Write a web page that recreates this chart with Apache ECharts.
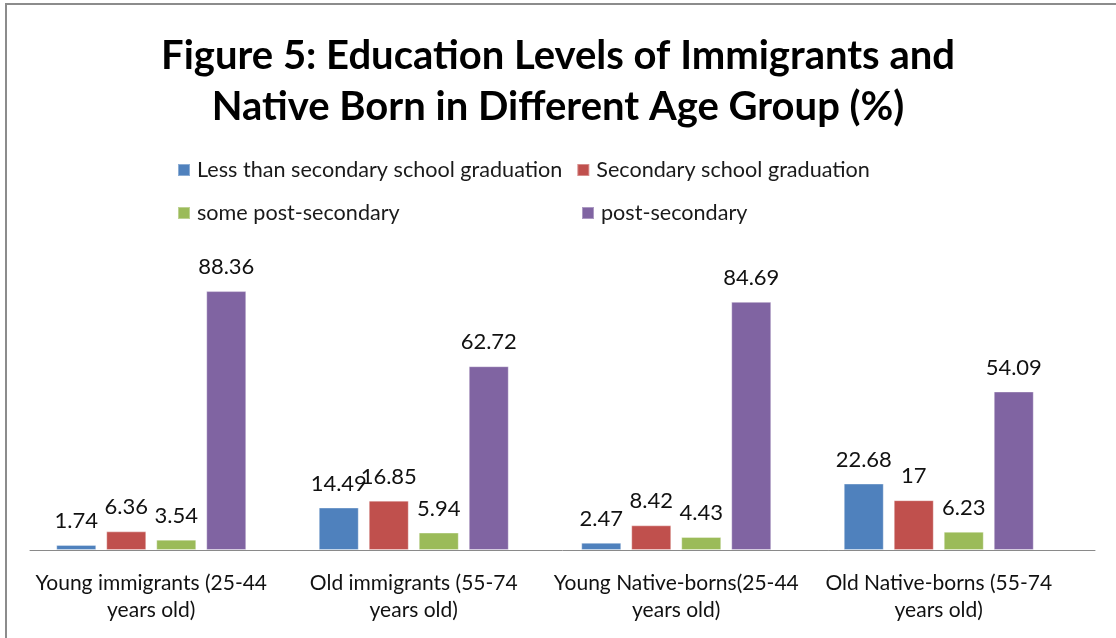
<!DOCTYPE html>
<html>
<head>
<meta charset="utf-8">
<script src="https://cdn.jsdelivr.net/npm/echarts@6/dist/echarts.min.js"></script>
<style>
html,body{margin:0;padding:0;background:#fff;}
#chart{width:1116px;height:638px;}
</style>
</head>
<body>
<div id="chart"></div>
<script>
const titleText = 'Figure 5: Education Levels of Immigrants and\nNative Born in Different Age Group (%)';
const categories = [
  'Young immigrants (25-44\nyears old)',
  'Old immigrants (55-74\nyears old)',
  'Young Native-borns(25-44\nyears old)',
  'Old Native-borns (55-74\nyears old)'
];
const seriesNames = [
  'Less than secondary school graduation',
  'Secondary school graduation',
  'some post-secondary',
  'post-secondary'
];
const lessThanSecondary = [1.74, 14.49, 2.47, 22.68];
const secondaryGrad = [6.36, 16.85, 8.42, 17];
const somePostSecondary = [3.54, 5.94, 4.43, 6.23];
const postSecondary = [88.36, 62.72, 84.69, 54.09];

const seriesValues = [lessThanSecondary, secondaryGrad, somePostSecondary, postSecondary];
const colors = ['#4F81BD', '#C0504D', '#9BBB59', '#8064A2'];
const FONT = 'Lato, "Open Sans", sans-serif';

const chart = echarts.init(document.getElementById('chart'));
const legendCommon = {
  itemWidth: 12, itemHeight: 12, itemGap: 14, icon: 'rect',
  textStyle: {fontFamily: FONT, fontSize: 21.6, color: '#1a1a1a', padding: [0,0,0,2]}
};
chart.setOption({
  animation: false,
  backgroundColor: '#fff',
  color: colors,
  title: {
    text: titleText,
    left: 'center', top: 26,
    textStyle: {fontFamily: FONT, fontWeight: 'bold', fontSize: 40, lineHeight: 51, color: '#000'}
  },
  legend: [
    Object.assign({data: [seriesNames[0], seriesNames[1]], left: 172, top: 154}, legendCommon),
    Object.assign({data: [seriesNames[2]], left: 172, top: 197}, legendCommon),
    Object.assign({data: [seriesNames[3]], left: 576, top: 197}, legendCommon)
  ],
  grid: [
    {left: 20, right: 46, top: 257, bottom: 88, containLabel: false},
    {left: 30, right: 21, top: 257, bottom: 88, containLabel: false}
  ],
  xAxis: [{
    type: 'category',
    gridIndex: 0,
    data: categories,
    axisLine: {show: false},
    axisTick: {show: false},
    axisLabel: {fontFamily: FONT, fontSize: 21, color: '#111', lineHeight: 27, margin: 20, interval: 0}
  }, {
    type: 'value',
    gridIndex: 1,
    min: 0, max: 1,
    axisLine: {show: true, onZero: false, lineStyle: {color: '#8a8a8a', width: 1}},
    axisTick: {show: false},
    axisLabel: {show: false},
    splitLine: {show: false}
  }],
  yAxis: [{
    type: 'value', gridIndex: 0, min: 0, max: 100,
    show: false,
    splitLine: {show: false}
  }, {
    type: 'value', gridIndex: 1, min: 0, max: 1,
    show: false,
    splitLine: {show: false}
  }],
  graphic: [{
    type: 'rect', silent: true, z: 100,
    shape: {x: 6, y: 4, width: 1300, height: 800},
    style: {fill: 'none', stroke: '#8c8c8c', lineWidth: 2}
  }],
  series: seriesValues.map((vals, i) => ({
    name: seriesNames[i],
    type: 'bar',
    xAxisIndex: 0, yAxisIndex: 0,
    data: vals,
    barWidth: 40,
    barGap: '25%',
    z: 3,
    itemStyle: {color: colors[i], borderColor: 'rgba(255,255,255,0.35)', borderWidth: 1},
    label: {
      show: true, position: 'top', distance: 13,
      fontFamily: FONT, fontSize: 22, color: '#111'
    }
  }))
});
</script>
</body>
</html>
